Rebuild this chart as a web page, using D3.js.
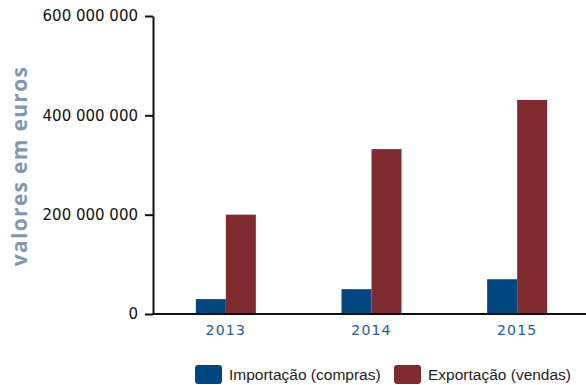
<!DOCTYPE html>
<html>
<head>
<meta charset="utf-8">
<script src="https://cdn.jsdelivr.net/npm/d3@7"></script>
<style>
  body { margin: 0; background: #fff; }
  svg { display: block; }
</style>
</head>
<body>
<div id="chart"></div>
<script>
// data
var years = ["2013", "2014", "2015"];
var series = ["Importação (compras)", "Exportação (vendas)"];
var importacao = [30000000, 50000000, 70000000];
var exportacao = [200000000, 332000000, 431000000];
var yTicks = [0, 200000000, 400000000, 600000000];
var colors = ["#00467f", "#7f2a2f"];

var W = 586, H = 385;
var margin = {top: 16, right: 0, bottom: 71, left: 153};

var svg = d3.select("#chart").append("svg")
    .attr("width", W)
    .attr("height", H);

var rows = years.map(function(y, i) {
  return {year: y, values: [importacao[i], exportacao[i]]};
});

var y = d3.scaleLinear()
    .domain([0, 600000000])
    .range([H - margin.bottom, margin.top]);

var x0 = d3.scaleBand()
    .domain(years)
    .range([margin.left, 590])
    .padding(0);

var bw = 30;
var x1 = d3.scaleBand()
    .domain([0, 1])
    .range([x0.bandwidth() / 2 - bw, x0.bandwidth() / 2 + bw]);

// space as thousands separator
var fmt = function(d) { return d3.format(",")(d).replace(/,/g, " "); };

// y axis
var yAxis = svg.append("g")
    .attr("transform", "translate(" + margin.left + ",0)")
    .call(d3.axisLeft(y).tickValues(yTicks).tickFormat(fmt).tickSize(8).tickSizeOuter(0));
yAxis.select(".domain").attr("stroke", "#111").attr("stroke-width", 2);
yAxis.selectAll(".tick line").attr("stroke", "#111").attr("stroke-width", 2);
yAxis.selectAll(".tick text")
    .attr("x", -15)
    .style("font-family", "DejaVu Sans")
    .style("font-size", "15px")
    .attr("fill", "#111");

// bars
var groups = svg.append("g").selectAll("g")
    .data(rows)
    .enter().append("g")
    .attr("transform", function(d) { return "translate(" + x0(d.year) + ",0)"; });

groups.selectAll("rect")
    .data(function(d) { return d.values.map(function(v, i) { return {i: i, v: v}; }); })
    .enter().append("rect")
    .attr("x", function(d) { return x1(d.i); })
    .attr("width", x1.bandwidth())
    .attr("y", function(d) { return y(d.v); })
    .attr("height", function(d) { return y(0) - y(d.v); })
    .attr("fill", function(d) { return colors[d.i]; });

// x axis
var xAxis = svg.append("g")
    .attr("transform", "translate(0," + y(0) + ")")
    .call(d3.axisBottom(x0).tickSize(0).tickPadding(11));
xAxis.select(".domain")
    .attr("d", "M" + margin.left + ",0H" + W)
    .attr("stroke", "#111").attr("stroke-width", 2);
xAxis.selectAll(".tick text")
    .style("font-family", "DejaVu Sans")
    .style("font-size", "14px")
    .style("letter-spacing", "1.2px")
    .attr("fill", "#245b94");

// y title
svg.append("text")
    .attr("transform", "translate(27," + 166 + ") rotate(-90)")
    .attr("text-anchor", "middle")
    .style("font-family", "Open Sans")
    .style("font-weight", "bold")
    .style("font-size", "21px")
    .style("letter-spacing", "1.3px")
    .attr("fill", "#7f97b0")
    .text("valores em euros");

// legend
var legX = [195, 394];
var legend = svg.append("g").selectAll("g")
    .data(series)
    .enter().append("g")
    .attr("transform", function(d, i) { return "translate(" + legX[i] + ",365)"; });
legend.append("rect")
    .attr("width", 27).attr("height", 19)
    .attr("rx", 3)
    .attr("fill", function(d, i) { return colors[i]; });
legend.append("text")
    .attr("x", 34).attr("y", 15)
    .style("font-family", "Liberation Sans")
    .style("font-size", "15.5px")
    .attr("fill", "#222")
    .text(function(d) { return d; });
</script>
</body>
</html>
